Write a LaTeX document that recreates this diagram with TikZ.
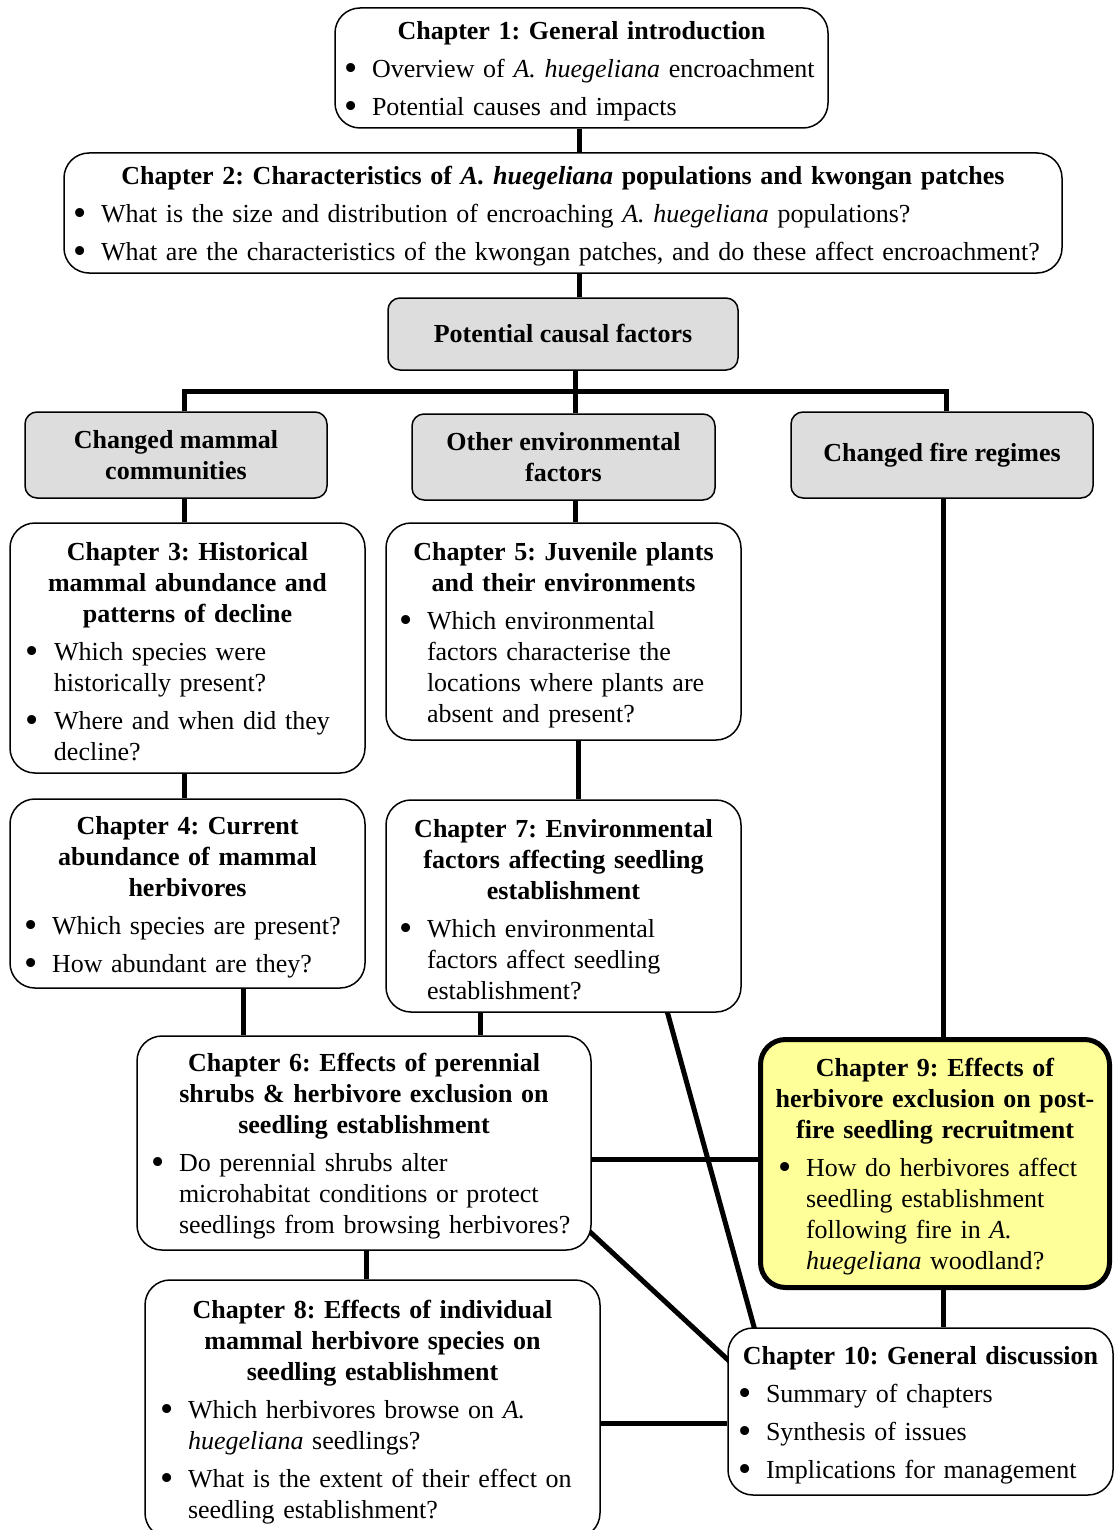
\documentclass[tikz,border=0pt]{standalone}
\usepackage{fontspec}
\usepackage{graphicx}
\setmainfont{Liberation Serif}
\usetikzlibrary{backgrounds}
\definecolor{boxgray}{HTML}{DDDDDD}
\definecolor{boxyellow}{HTML}{FFFF99}
\newlength\bulloff
\newcommand\bigbul{\raisebox{-0.12em}{\scalebox{1.45}{\textbullet}}}
\newcommand\bul[1]{\par\vspace{7pt}{\raggedright\noindent\hangindent=\dimexpr\bulloff+28pt\relax\hangafter=1\hspace*{\bulloff}\makebox[28pt][l]{\bigbul}#1\par}}
\newcommand\ttl[1]{{\centering\bfseries\rule{0pt}{25pt}#1\par}}
\tikzset{
  basefont/.style={font=\fontsize{26}{31}\selectfont\frenchspacing},
  chap/.style={draw, line width=1.5pt, rounded corners=25pt, fill=white, inner xsep=8pt, inner ysep=0pt},
  gbox/.style={draw, line width=1.5pt, rounded corners=12pt, fill=boxgray, align=center, font=\fontsize{26}{31}\selectfont\frenchspacing\bfseries, inner sep=0pt},
  conn/.style={line width=5pt},
  bo/.style={execute at begin node={\setlength{\bulloff}{#1pt}}},
}
\begin{document}
\begin{tikzpicture}[x=1pt,y=-1pt,basefont]
\useasboundingbox (0,0) rectangle (1114,1530);
\clip (0,0) rectangle (1114,1530);

% boxes
\node[chap, bo=1, minimum width=493pt, minimum height=120pt, text width=477pt] (ch1) at (581.5,68) {%
\ttl{Chapter 1: General introduction}
\bul{Overview of \textit{A. huegeliana} encroachment}
\bul{Potential causes and impacts}};

\node[chap, bo=1, minimum width=998pt, minimum height=120pt, text width=982pt] (ch2) at (563,213) {%
\ttl{Chapter 2: Characteristics of \textit{A. huegeliana} populations and kwongan patches}
\bul{What is the size and distribution of encroaching \textit{A. huegeliana} populations?}
\bul{What are the characteristics of the kwongan patches, and do these affect encroachment?}};

\node[gbox, minimum width=350pt, minimum height=72pt] (pcf) at (563,334) {Potential causal factors};

\node[gbox, minimum width=302pt, minimum height=86pt] (cmc) at (176,455) {Changed mammal\\communities};
\node[gbox, minimum width=303pt, minimum height=86pt] (oef) at (563.5,457) {Other environmental\\factors};
\node[gbox, minimum width=302pt, minimum height=86pt] (cfr) at (942,455) {Changed fire regimes};

\node[chap, bo=8, minimum width=355pt, minimum height=250pt, text width=339pt] (ch3) at (187.5,648) {%
\ttl{Chapter 3: Historical\\mammal abundance and\\patterns of decline}
\bul{Which species were\newline historically present?}
\bul{Where and when did they\newline decline?}};

\node[chap, bo=5, minimum width=355pt, minimum height=217pt, text width=339pt] (ch5) at (563.5,631.5) {%
\ttl{Chapter 5: Juvenile plants\\and their environments}
\bul{Which environmental\newline factors characterise the\newline locations where plants are\newline absent and present?}};

\node[chap, bo=6, minimum width=355pt, minimum height=189pt, text width=339pt] (ch4) at (187.5,893.5) {%
\ttl{Chapter 4: Current\\abundance of mammal\\herbivores}
\bul{Which species are present?}
\bul{How abundant are they?}};

\node[chap, bo=5, minimum width=355pt, minimum height=212pt, text width=339pt] (ch7) at (563.5,906) {%
\ttl{Chapter 7: Environmental\\factors affecting seedling\\establishment}
\bul{Which environmental\newline factors affect seedling\newline establishment?}};

\node[chap, bo=6, minimum width=454pt, minimum height=214pt, text width=438pt] (ch6) at (364,1143) {%
\ttl{Chapter 6: Effects of perennial\\shrubs \& herbivore exclusion on\\seedling establishment}
\bul{Do perennial shrubs alter\newline microhabitat conditions or protect\newline seedlings from browsing herbivores?}};

\node[chap, bo=9.5, line width=5pt, fill=boxyellow, minimum width=349pt, minimum height=248pt, text width=333pt] (ch9) at (935,1163.5) {%
\ttl{Chapter 9: Effects of\\herbivore exclusion on post-\\fire seedling recruitment}
\bul{How do herbivores affect\newline seedling establishment\newline following fire in \textit{A.}\newline \textit{huegeliana} woodland?}};

\node[chap, bo=7, minimum width=455pt, minimum height=258pt, text width=439pt] (ch8) at (372.5,1409) {%
\ttl{Chapter 8: Effects of individual\\mammal herbivore species on\\seedling establishment}
\bul{Which herbivores browse on \textit{A.}\newline \textit{huegeliana} seedlings?}
\bul{What is the extent of their effect on\newline seedling establishment?}};

\node[chap, bo=2, minimum width=385pt, minimum height=167pt, text width=369pt] (ch10) at (920.5,1411.5) {%
\ttl{Chapter 10: General discussion}
\bul{Summary of chapters}
\bul{Synthesis of issues}
\bul{Implications for management}};

% helper coordinates
\coordinate (xa) at (579,0);
\coordinate (xb) at (575,0);
\coordinate (xc) at (184,0);
\coordinate (xd) at (946,0);
\coordinate (xe) at (578,0);
\coordinate (xf) at (243,0);
\coordinate (xg) at (480,0);
\coordinate (xh) at (943,0);
\coordinate (xi) at (366,0);
\coordinate (bus) at (0,391);
\coordinate (ya) at (0,1159);
\coordinate (yb) at (0,1423);
\coordinate (d1a) at (575,1218);
\coordinate (d1b) at (740,1371);
\coordinate (d2a) at (664,1000);
\coordinate (d2b) at (759,1345);

\begin{scope}[on background layer]
\draw[conn] (ch1.south -| xa) -- (ch2.north -| xa);
\draw[conn] (ch2.south -| xa) -- (pcf.north -| xa);
\draw[conn] (pcf.south -| xb) -- (oef.north -| xb);
\draw[conn] (cmc.north -| xc) -- (xc |- bus) -- (xd |- bus) -- (cfr.north -| xd);
\draw[conn] (cmc.south -| xc) -- (ch3.north -| xc);
\draw[conn] (oef.south -| xb) -- (ch5.north -| xb);
\draw[conn] (ch3.south -| xc) -- (ch4.north -| xc);
\draw[conn] (ch5.south -| xe) -- (ch7.north -| xe);
\draw[conn] (ch4.south -| xf) -- (ch6.north -| xf);
\draw[conn] (ch7.south -| xg) -- (ch6.north -| xg);
\draw[conn] (cfr.south -| xh) -- (ch9.north -| xh);
\draw[conn] (ch6.east |- ya) -- (ch9.west |- ya);
\draw[conn] (ch6.south -| xi) -- (ch8.north -| xi);
\draw[conn] (ch9.south -| xh) -- (ch10.north -| xh);
\draw[conn] (ch8.east |- yb) -- (ch10.west |- yb);
\draw[conn] (d1a) -- (d1b);
\draw[conn] (d2a) -- (d2b);
\end{scope}
\end{tikzpicture}
\end{document}
